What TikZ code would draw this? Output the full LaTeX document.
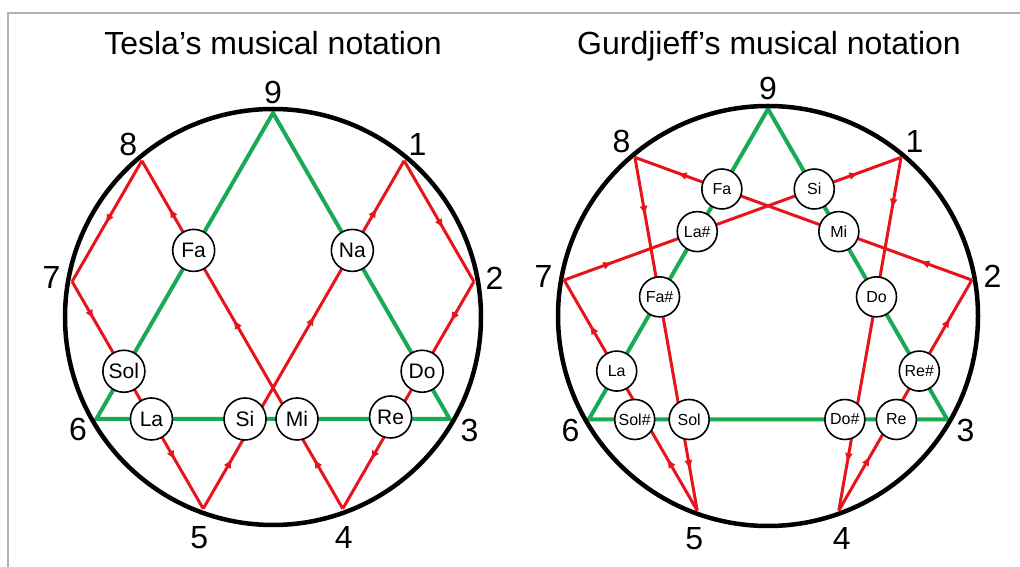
\documentclass[tikz,border=0pt]{standalone}
\usepackage{fontspec}
\setmainfont{Liberation Sans}
\usetikzlibrary{calc, arrows.meta, decorations.markings}
\definecolor{NoteRed}{HTML}{E8141C}
\definecolor{NoteGreen}{HTML}{1AAA55}
\definecolor{FrameGray}{HTML}{B4B4B4}

\begin{document}
\begin{tikzpicture}[
      x=1pt, y=1pt,
      ring/.style={draw=black, line width=4.5pt},
      tri/.style={draw=NoteGreen, line width=4pt, line join=miter},
      hex/.style={NoteRed, line width=3pt},
      arr/.style={postaction={decorate, decoration={markings,
                  mark=at position #1 with {\arrow{Triangle[length=8pt, width=7pt]}}}}},
      note/.style={circle, draw=black, fill=white, line width=1.6pt, inner sep=0pt,
                   minimum size=42pt, font=\fontsize{21}{21}\selectfont},
      snote/.style={note, minimum size=40pt, font=\fontsize{16}{16}\selectfont},
      num/.style={font=\fontsize{32}{32}\selectfont, inner sep=0pt},
      title/.style={font=\fontsize{32}{32}\selectfont, anchor=base, inner sep=0pt}
    ]
    \useasboundingbox (0,0) rectangle (1020,567);
    \draw[FrameGray, line width=2pt] (8,0) -- (8,554) -- (1020,554);

    \coordinate (Lc) at (273,250);
    \coordinate (Rc) at (768,251);
    \foreach \k in {1,...,9} {
      \coordinate (L\k) at ($(Lc)+({90-40*\k}:204)$);
      \coordinate (R\k) at ($(Rc)+({90-40*\k}:207)$);
    }

    \node[title] (tesla) at (273,512) {Tesla’s musical notation};
    \node[title] (gurd)  at (769,512) {Gurdjieff’s musical notation};

    % Tesla
    \draw[tri] (L9) -- (L3) -- (L6) -- cycle;
    \draw[hex, arr=0.55] (L1) -- (L2);
    \draw[hex, arr=0.17, arr=0.78] (L2) -- (L4);
    \draw[hex, arr=0.14, arr=0.54, arr=0.86] (L4) -- (L8);
    \draw[hex, arr=0.51] (L8) -- (L7);
    \draw[hex, arr=0.16, arr=0.78] (L7) -- (L5);
    \draw[hex, arr=0.14, arr=0.55, arr=0.86] (L5) -- (L1);
    \draw[ring] (Lc) circle[radius=208];

    \node[note] (LFa)  at (intersection of L9--L6 and L8--L4) {Fa};
    \node[note] (LNa)  at (intersection of L9--L3 and L1--L5) {Na};
    \node[note] (LSol) at (intersection of L9--L6 and L7--L5) {Sol};
    \node[note] (LDo)  at (intersection of L9--L3 and L2--L4) {Do};
    \node[note] (LLa)  at (intersection of L6--L3 and L7--L5) {La};
    \node[note, xshift=-10pt] (LSi) at (intersection of L6--L3 and L5--L1) {Si};
    \node[note, xshift=6pt]   (LMi) at (intersection of L6--L3 and L8--L4) {Mi};
    \node[note, xshift=-4pt, yshift=2pt] (LRe) at (intersection of L6--L3 and L2--L4) {Re};

    \foreach \k/\d in {1/17,2/17,3/19,6/17,7/17,8/17,9/17} {
      \node[num] (Ln\k) at ($(Lc)+({90-40*\k}:{208+\d})$) {\k};
    }
    \node[num] (Ln5) at ([shift={(-4,-29)}]L5) {5};
    \node[num] (Ln4) at ([shift={(1,-29)}]L4) {4};

    % Gurdjieff
    \draw[tri] (R9) -- (R3) -- (R6) -- cycle;
    \draw[hex, arr=0.14, arr=0.86] (R1) -- (R4);
    \draw[hex, arr=0.23, arr=0.83] (R4) -- (R2);
    \draw[hex, arr=0.15, arr=0.87] (R2) -- (R8);
    \draw[hex, arr=0.16, arr=0.88] (R8) -- (R5);
    \draw[hex, arr=0.22, arr=0.80] (R5) -- (R7);
    \draw[hex, arr=0.14, arr=0.87] (R7) -- (R1);
    \draw[ring] (Rc) circle[radius=210];

    \node[snote] (RFa)   at (intersection of R9--R6 and R8--R2) {Fa};
    \node[snote] (RLas)  at (intersection of R9--R6 and R7--R1) {La\#};
    \node[snote] (RFas)  at (intersection of R9--R6 and R8--R5) {Fa\#};
    \node[snote] (RLa)   at (intersection of R9--R6 and R7--R5) {La};
    \node[snote] (RSi)   at (intersection of R9--R3 and R7--R1) {Si};
    \node[snote] (RMi)   at (intersection of R9--R3 and R8--R2) {Mi};
    \node[snote] (RDo)   at (intersection of R9--R3 and R1--R4) {Do};
    \node[snote] (RRes)  at (intersection of R9--R3 and R2--R4) {Re\#};
    \node[snote, xshift=-10pt] (RSols) at (intersection of R6--R3 and R7--R5) {Sol\#};
    \node[snote, xshift=8pt]   (RSol)  at (intersection of R6--R3 and R8--R5) {Sol};
    \node[snote, xshift=-10pt] (RDos)  at (intersection of R6--R3 and R1--R4) {Do\#};
    \node[snote, xshift=5pt]   (RRe)   at (intersection of R6--R3 and R2--R4) {Re};

    \foreach \k/\d in {1/18,2/18,3/18,6/18,7/18,8/18,9/18} {
      \node[num] (Rn\k) at ($(Rc)+({90-40*\k}:{210+\d})$) {\k};
    }
    \node[num] (Rn5) at ([shift={(-3,-28)}]R5) {5};
    \node[num] (Rn4) at ([shift={(3,-28)}]R4) {4};
  \end{tikzpicture}
\end{document}
